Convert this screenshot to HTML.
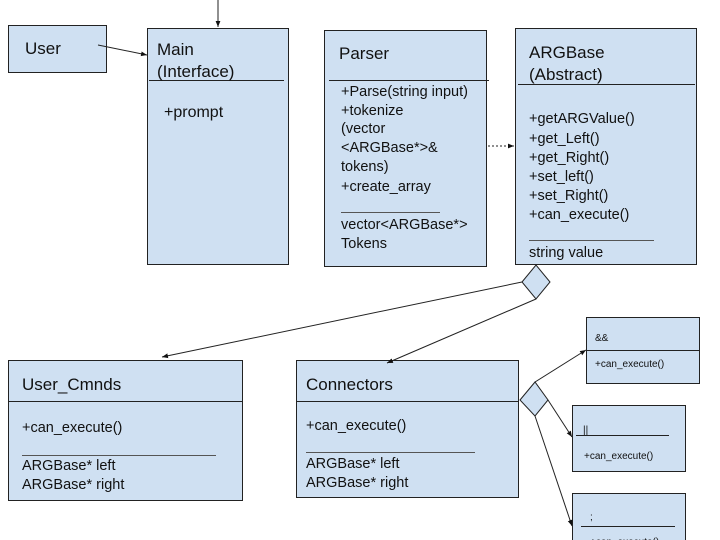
<!DOCTYPE html>
<html><head><meta charset="utf-8"><style>
html,body{margin:0;padding:0;background:#fff;}
svg{display:block;}
text{font-family:"Liberation Sans",sans-serif;fill:#111;}
</style></head><body>
<svg width="720" height="540" viewBox="0 0 720 540" xmlns="http://www.w3.org/2000/svg">
<defs>
<marker id="a" viewBox="0 0 10 10" refX="10" refY="5" markerWidth="6" markerHeight="6" orient="auto"><path d="M0,1 L10,5 L0,9 z" fill="#111"/></marker>
</defs>
<g fill="#cfe0f2" stroke="#222" stroke-width="1">
<rect x="8.5" y="25.5" width="98" height="47"/>
<rect x="147.5" y="28.5" width="141" height="236"/>
<rect x="324.5" y="30.5" width="162" height="236"/>
<rect x="515.5" y="28.5" width="181" height="236"/>
<rect x="8.5" y="360.5" width="234" height="140"/>
<rect x="296.5" y="360.5" width="222" height="137"/>
<rect x="586.5" y="317.5" width="113" height="66"/>
<rect x="572.5" y="405.5" width="113" height="66"/>
<rect x="572.5" y="493.5" width="113" height="60"/>
<polygon points="522,282 536,265 550,282 536,299"/>
<polygon points="520,400 535,382 548,400 535,416"/>
</g>
<g stroke="#222" stroke-width="1" fill="none">
<line x1="149" y1="80.5" x2="284" y2="80.5"/>
<line x1="329" y1="80.5" x2="489" y2="80.5"/>
<line x1="341" y1="212.5" x2="440" y2="212.5" stroke="#555"/>
<line x1="518" y1="84.5" x2="695" y2="84.5"/>
<line x1="529" y1="240.5" x2="654" y2="240.5" stroke="#555"/>
<line x1="8" y1="401.5" x2="242" y2="401.5"/>
<line x1="22" y1="455.5" x2="216" y2="455.5" stroke="#555"/>
<line x1="296" y1="401.5" x2="518" y2="401.5"/>
<line x1="306" y1="452.5" x2="475" y2="452.5" stroke="#555"/>
<line x1="586" y1="350.5" x2="699" y2="350.5"/>
<line x1="576" y1="435.5" x2="669" y2="435.5"/>
<line x1="581" y1="526.5" x2="675" y2="526.5"/>
<line x1="218" y1="0" x2="218" y2="27" marker-end="url(#a)"/>
<line x1="98" y1="45" x2="147" y2="55" marker-end="url(#a)"/>
<line x1="488" y1="146" x2="514" y2="146" stroke-dasharray="2,2" marker-end="url(#a)"/>
<line x1="522" y1="282" x2="162" y2="357" marker-end="url(#a)"/>
<line x1="536" y1="299" x2="387" y2="363" marker-end="url(#a)"/>
<line x1="535" y1="382" x2="586" y2="350" marker-end="url(#a)"/>
<line x1="548" y1="400" x2="572" y2="437" marker-end="url(#a)"/>
<line x1="535" y1="416" x2="572" y2="526" marker-end="url(#a)"/>
</g>
<g font-size="17">
<text x="25" y="54">User</text>
<text x="157" y="55">Main</text>
<text x="157" y="77">(Interface)</text>
<text x="339" y="59">Parser</text>
<text x="529" y="58">ARGBase</text>
<text x="529" y="80">(Abstract)</text>
<text x="22" y="390">User_Cmnds</text>
<text x="306" y="390">Connectors</text>
</g>
<text x="164" y="117" font-size="16">+prompt</text>
<g font-size="14.5">
<text x="341" y="96">+Parse(string input)</text>
<text x="341" y="115">+tokenize</text>
<text x="341" y="133">(vector</text>
<text x="341" y="152">&lt;ARGBase*&gt;&amp;</text>
<text x="341" y="171">tokens)</text>
<text x="341" y="191">+create_array</text>
<text x="341" y="229">vector&lt;ARGBase*&gt;</text>
<text x="341" y="248">Tokens</text>
<text x="529" y="123">+getARGValue()</text>
<text x="529" y="143">+get_Left()</text>
<text x="529" y="162">+get_Right()</text>
<text x="529" y="181">+set_left()</text>
<text x="529" y="200">+set_Right()</text>
<text x="529" y="219">+can_execute()</text>
<text x="529" y="257">string value</text>
<text x="22" y="432">+can_execute()</text>
<text x="22" y="470">ARGBase* left</text>
<text x="22" y="489">ARGBase* right</text>
<text x="306" y="430">+can_execute()</text>
<text x="306" y="468">ARGBase* left</text>
<text x="306" y="487">ARGBase* right</text>
</g>
<g font-size="10">
<text x="595" y="341">&amp;&amp;</text>
<text x="595" y="367">+can_execute()</text>
<text x="583" y="433">||</text>
<text x="584" y="459">+can_execute()</text>
<text x="590" y="520">;</text>
<text x="590" y="545">+can_execute()</text>
</g>
</svg>
</body></html>
